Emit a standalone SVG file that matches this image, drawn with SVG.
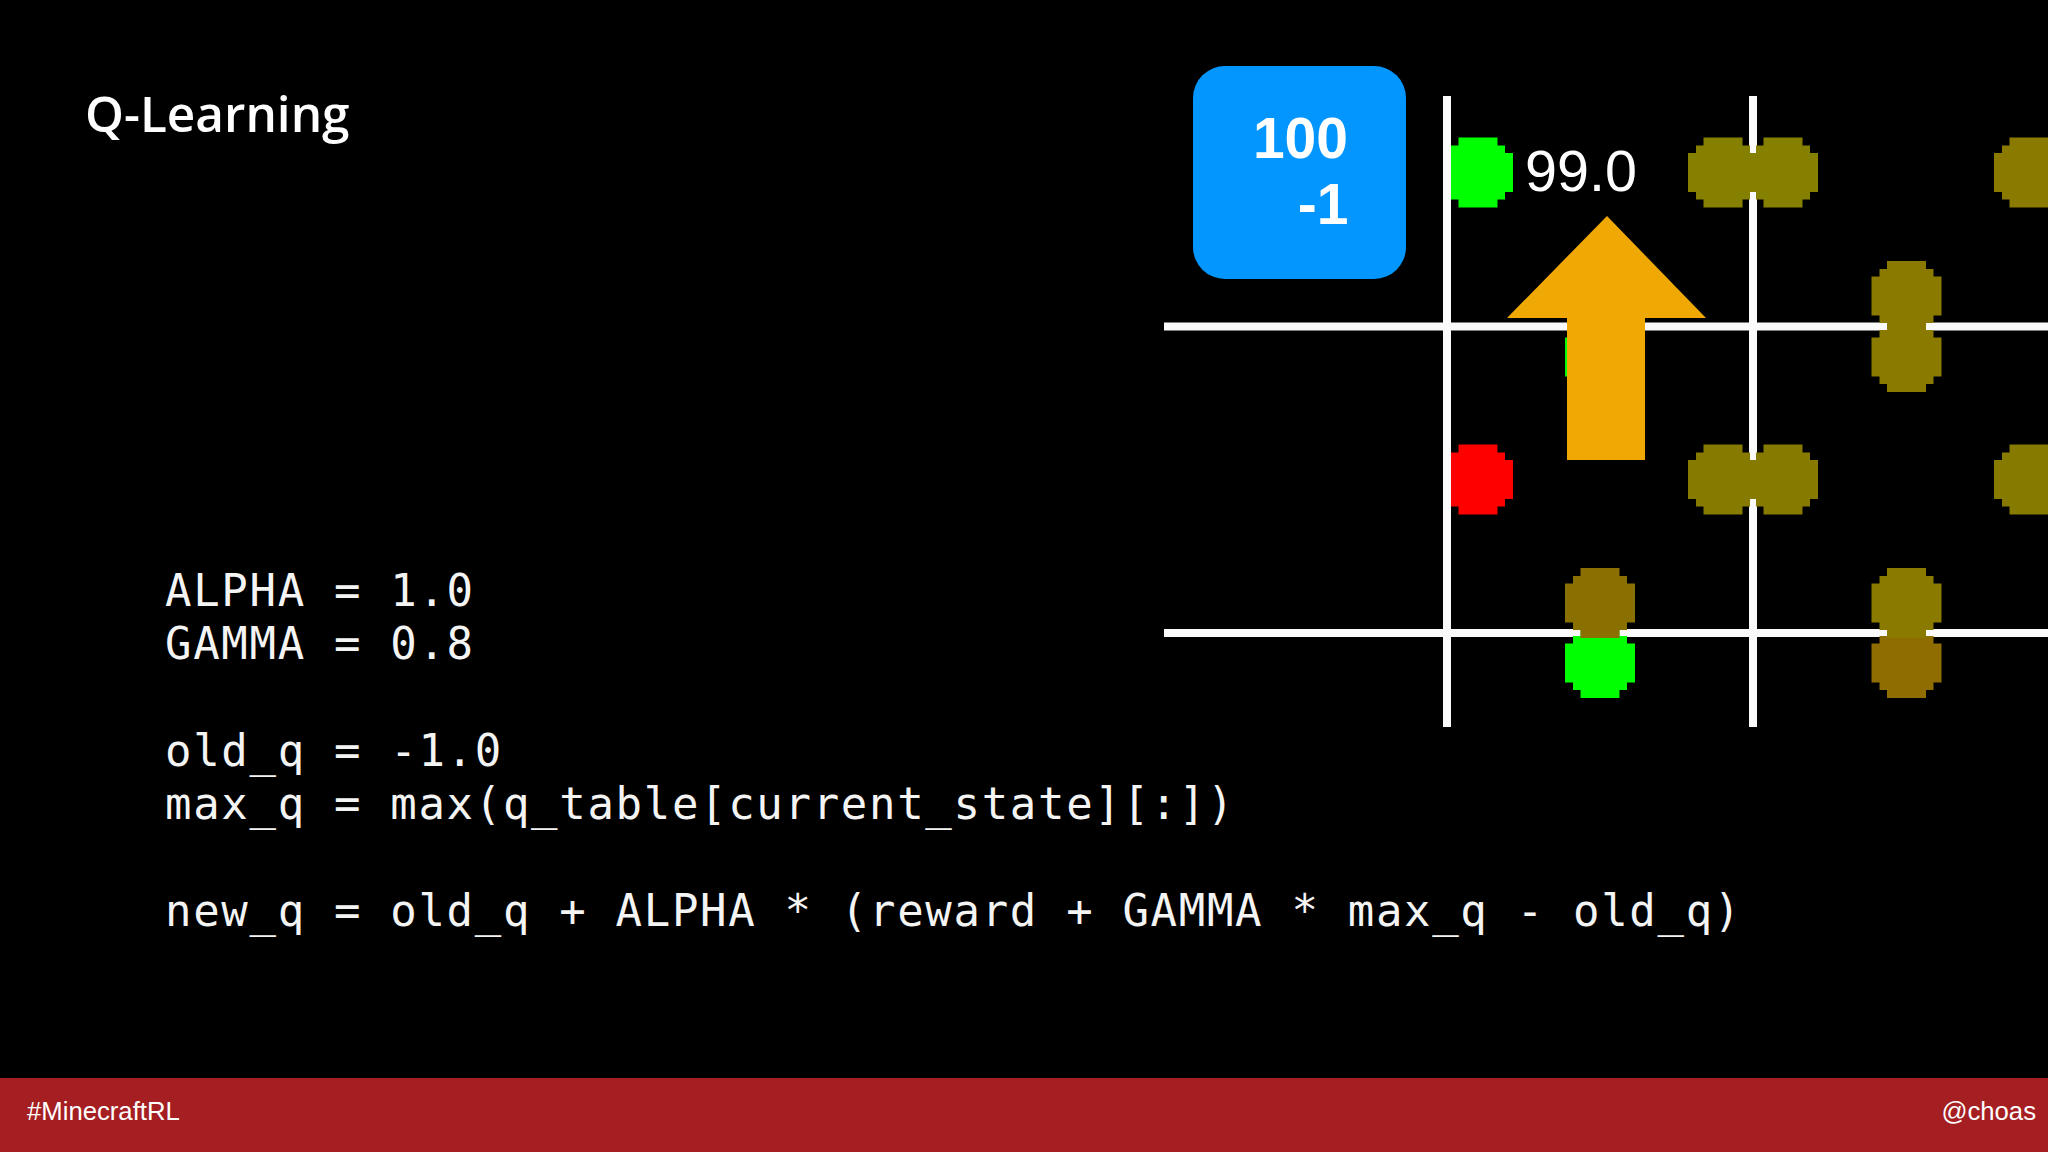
<svg xmlns="http://www.w3.org/2000/svg" width="2048" height="1152" viewBox="0 0 2048 1152">
<style>
.code{font-family:"DejaVu Sans Mono",monospace;font-size:44px;letter-spacing:1.67px;fill:#f4f4f4}
.foot{font-family:"Liberation Sans",Arial,sans-serif;font-size:25.7px;fill:#fff}
.grid{stroke:#fafafa;stroke-width:8;fill:none}
.green{fill:#00ff00}.red{fill:#ff0000}
.o1{fill:#858000}.o2{fill:#8a7a00}.o3{fill:#867a00}.o4{fill:#8a7000}.o5{fill:#8f6d00}
</style>
<defs>
<path id="dot" d="M-19.5-35H19.5V-27H27V-19.5H35V19.5H27V27H19.5V35H-19.5V27H-27V19.5H-35V-19.5H-27V-27H-19.5Z"/>
</defs>
<rect width="2048" height="1152" fill="#000"/>
<text id="title" x="85" y="132" font-family="'Open Sans',sans-serif" font-weight="600" font-size="49.5" fill="#fff">Q-Learning</text>
<g id="code">
<text class="code" x="165" y="606">ALPHA = 1.0</text>
<text class="code" x="165" y="659">GAMMA = 0.8</text>
<text class="code" x="165" y="766">old_q = -1.0</text>
<text class="code" x="165" y="819">max_q = max(q_table[current_state][:])</text>
<text class="code" x="165" y="926">new_q = old_q + ALPHA * (reward + GAMMA * max_q - old_q)</text>
</g>
<g id="under-dots">
<use href="#dot" x="1478" y="172.5" class="green"/>
<use href="#dot" x="1478" y="479.5" class="red"/>
<use href="#dot" x="1600" y="357" class="green"/>
</g>
<g id="connectors">
<path class="grid" d="M1447 96V727M1753 96V727M1164 326.5H2048M1164 633H2048"/>
</g>
<g id="dots">
<use href="#dot" x="1723" y="172.5" class="o1"/>
<use href="#dot" x="1783" y="172.5" class="o1"/>
<use href="#dot" x="2029" y="172.5" class="o2"/>
<use href="#dot" x="1906.5" y="357" class="o2"/>
<use href="#dot" x="1906.5" y="296" class="o2"/>
<use href="#dot" x="1723" y="479.5" class="o3"/>
<use href="#dot" x="1783" y="479.5" class="o3"/>
<use href="#dot" x="2029" y="479.5" class="o3"/>
<use href="#dot" x="1600" y="663" class="green"/>
<use href="#dot" x="1600" y="603" class="o4"/>
<use href="#dot" x="1906.5" y="663" class="o5"/>
<use href="#dot" x="1906.5" y="603" class="o2"/>
</g>
<g id="arrow">
<path d="M1607 216L1706 318H1645V460H1567V318H1507Z" fill="#f0a804"/>
</g>
<text id="value" x="1525" y="191" font-family="'Liberation Sans',Arial,sans-serif" font-size="57.5" fill="#fff">99.0</text>
<g id="score">
<rect x="1193" y="66" width="213" height="213" rx="32" fill="#0496ff"/>
<text x="1348" y="158" text-anchor="end" font-family="'Liberation Sans',Arial,sans-serif" font-weight="700" font-size="57" fill="#fff">100</text>
<text x="1348.5" y="224" text-anchor="end" font-family="'Liberation Sans',Arial,sans-serif" font-weight="700" font-size="57" fill="#fff">-1</text>
</g>
<g id="footer">
<rect y="1078" width="2048" height="74" fill="#a51e22"/>
<text class="foot" x="27" y="1120">#MinecraftRL</text>
<text class="foot" x="2036" y="1120" text-anchor="end">@choas</text>
</g>
</svg>
